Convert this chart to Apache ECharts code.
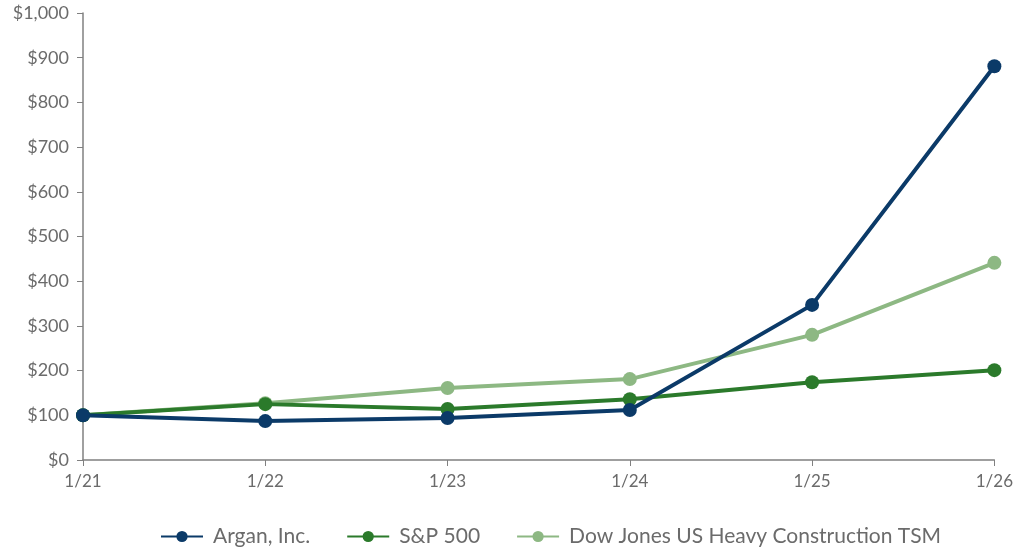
<!DOCTYPE html>
<html style="height: 100%">
<head>
  <meta charset="utf-8">
  <script type="text/javascript" src="https://cdn.jsdelivr.net/npm/echarts/dist/echarts.min.js"></script>
</head>
<body style="margin: 0; height: 100%; background: #fff">
  <div id="container" style="width: 1016px; height: 552px"></div>
  <script type="text/javascript">
    var categories = ['1/21', '1/22', '1/23', '1/24', '1/25', '1/26'];
    var argan = [100, 87, 94, 112, 347, 881];
    var sp500 = [100, 125, 114, 136, 174, 201];
    var djHeavy = [100, 127, 161, 181, 280, 441];

    var _colors = ['#0b3a68', '#2b7a2b', '#8db883'];
    var txt = '#6b6b6b';

    function mkSeries(name, data, i) {
      return {
        name: name,
        type: 'line',
        symbol: 'circle',
        symbolSize: 14,
        data: data,
        itemStyle: { color: _colors[i] },
        lineStyle: { width: 4, color: _colors[i] },
        z: 10 - i
      };
    }

    var myChart = echarts.init(document.getElementById('container'));
    var option = {
      animation: false,
      grid: { left: 83, right: 20, top: 13, bottom: 92 },
      legend: {
        bottom: 0,
        left: 155,
        itemWidth: 42,
        itemHeight: 14,
        itemGap: 36,
        textStyle: { color: txt, fontSize: 21, fontFamily: 'Lato', padding: [0, 0, 0, 5] },
        data: ['Argan, Inc.', 'S&P 500', 'Dow Jones US Heavy Construction TSM']
      },
      xAxis: {
        type: 'category',
        boundaryGap: false,
        data: categories,
        axisLine: { lineStyle: { color: '#808080', width: 1.5 } },
        axisTick: { alignWithLabel: true, length: 6, lineStyle: { color: '#808080' } },
        axisLabel: { color: txt, fontSize: 17, fontFamily: 'Lato', margin: 13 }
      },
      yAxis: {
        type: 'value',
        min: 0,
        max: 1000,
        interval: 100,
        splitLine: { show: false },
        axisLine: { show: true, lineStyle: { color: '#808080', width: 1.5 } },
        axisTick: { show: true, length: 6, lineStyle: { color: '#808080' } },
        axisLabel: {
          color: txt, fontSize: 18, fontFamily: 'Lato', margin: 14,
          formatter: function (v) { return '$' + v.toLocaleString('en-US'); }
        }
      },
      series: [
        mkSeries('Argan, Inc.', argan, 0),
        mkSeries('S&P 500', sp500, 1),
        mkSeries('Dow Jones US Heavy Construction TSM', djHeavy, 2)
      ]
    };
    myChart.setOption(option);
  </script>
</body>
</html>
